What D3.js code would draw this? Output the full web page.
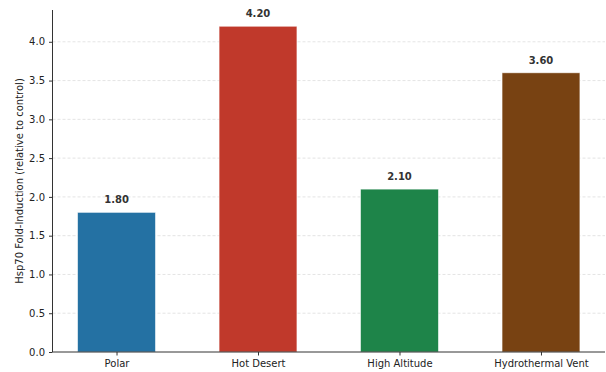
<!DOCTYPE html>
<html><head><meta charset="utf-8">
<script src="https://cdn.jsdelivr.net/npm/d3@7"></script>
<style>body{margin:0;background:#fff}svg{display:block}text{font-family:"DejaVu Sans",sans-serif}</style>
</head><body><svg id="c" width="606" height="372"></svg>
<script>
const categories = ["Polar", "Hot Desert", "High Altitude", "Hydrothermal Vent"];
const values = [1.80, 4.20, 2.10, 3.60];
const colors = ["#2471a3", "#c0392b", "#1e8449", "#784212"];
const yTicks = [0, 0.5, 1.0, 1.5, 2.0, 2.5, 3.0, 3.5, 4.0];
const yLabel = "Hsp70 Fold-Induction (relative to control)";

const svg = d3.select("#c");
const L = 52.5, R = 605, T = 10, B = 352;
const barW = 0.55;
const n = categories.length;
const span = (n - 1) + barW;
const x = d3.scaleLinear().domain([-barW/2 - 0.05*span, (n-1) + barW/2 + 0.05*span]).range([L, R]);
const y = d3.scaleLinear().domain([0, 4.41]).range([B, T]);

// grid
svg.append("g").selectAll("line").data(yTicks.slice(1)).join("line")
  .attr("x1", L).attr("x2", R).attr("y1", d => y(d)).attr("y2", d => y(d))
  .attr("stroke", "#dddddd").attr("stroke-width", 0.8).attr("stroke-dasharray", "3,2");

// bars
svg.append("g").selectAll("rect").data(values).join("rect")
  .attr("x", (d, i) => x(i - barW/2)).attr("width", (d, i) => x(i + barW/2) - x(i - barW/2))
  .attr("y", d => y(d)).attr("height", d => y(0) - y(d))
  .attr("fill", (d, i) => colors[i]).attr("stroke", "rgba(255,255,255,0.6)").attr("stroke-width", 0.8);

// value labels
svg.append("g").selectAll("text").data(values).join("text")
  .attr("x", (d, i) => x(i)).attr("y", d => y(d) - 9)
  .attr("text-anchor", "middle").attr("font-size", 10).attr("font-weight", "bold").attr("fill", "#333")
  .text(d => d.toFixed(2));

// y axis
const ya = svg.append("g").attr("transform", `translate(${L},0)`)
  .call(d3.axisLeft(y).tickValues(yTicks).tickFormat(d3.format(".1f")).tickSize(3.5).tickPadding(4));
ya.select(".domain").attr("stroke", "#333").attr("stroke-width", 1).attr("d", `M0,${T}V${B}`);
ya.selectAll(".tick line").attr("stroke", "#333");
ya.selectAll(".tick text").attr("font-size", 10).attr("fill", "#222").attr("font-family", "DejaVu Sans");

// x axis
const xa = svg.append("g").attr("transform", `translate(0,${B})`)
  .call(d3.axisBottom(x).tickValues(d3.range(n)).tickFormat(i => categories[i]).tickSize(3.5).tickPadding(4.5));
xa.select(".domain").attr("stroke", "#333").attr("stroke-width", 1).attr("d", `M${L},0H${R}`);
xa.selectAll(".tick line").attr("stroke", "#333");
xa.selectAll(".tick text").attr("font-size", 10).attr("fill", "#222").attr("font-family", "DejaVu Sans");

svg.append("text").attr("transform", `translate(23,${(T+B)/2}) rotate(-90)`)
  .attr("text-anchor", "middle").attr("font-size", 10).attr("fill", "#222").text(yLabel);
</script></body></html>
